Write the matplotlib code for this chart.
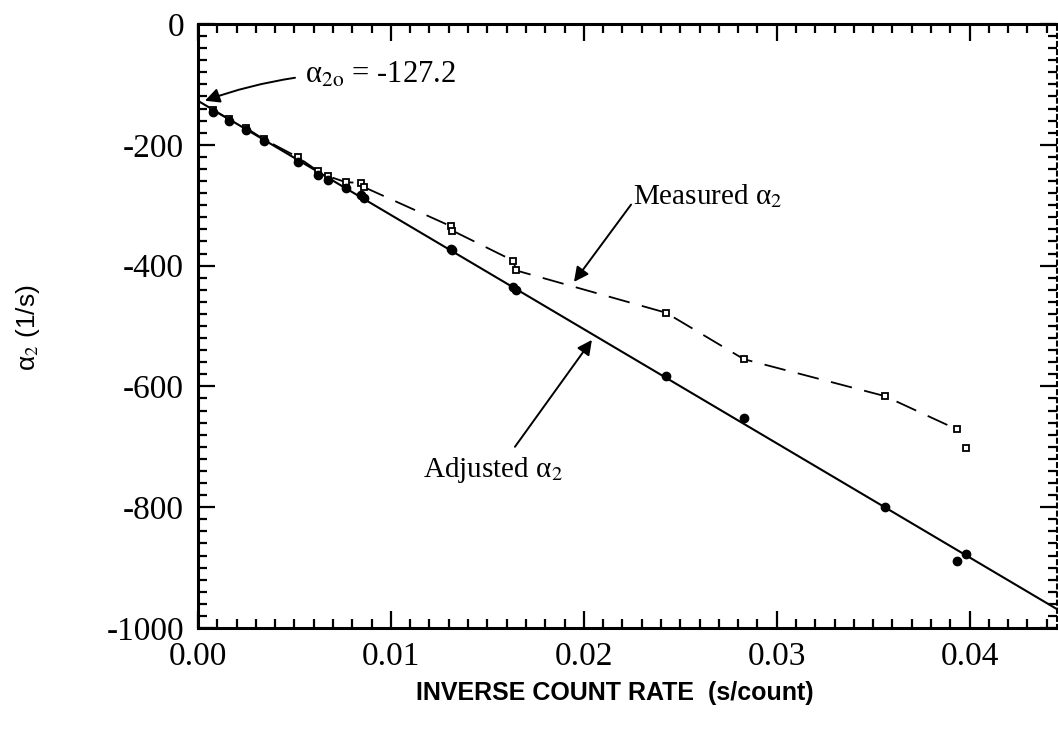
import matplotlib
matplotlib.use("Agg")
import matplotlib.pyplot as plt
import numpy as np
from matplotlib.ticker import MultipleLocator, FixedLocator

plt.rcParams['font.family'] = ['Liberation Serif', 'DejaVu Serif']
plt.rcParams['mathtext.fontset'] = 'stix'
plt.rcParams['axes.unicode_minus'] = False

# ---- data ----
inv_rate = [0.00079, 0.00162, 0.00249, 0.00342, 0.0052, 0.00624, 0.00675, 0.00767,
            0.00843, 0.0086, 0.01312, 0.01318, 0.01635, 0.01649, 0.02426, 0.0283,
            0.0356, 0.03933, 0.03981]
measured = [-143, -158, -172, -191, -221, -244, -252, -262, -263, -270, -335, -342,
            -392, -408, -478, -555, -616, -671, -702]
adjusted = [-145, -161, -175, -193, -229, -250, -259, -272, -283, -288, -372, -374,
            -435, -440, -582, -653, -800, -889, -878]
fit_intercept = -127.2
fit_slope = -18900.0
x_ticks = [0.00, 0.01, 0.02, 0.03, 0.04]
x_ticklabels = ['0.00', '0.01', '0.02', '0.03', '0.04']
y_ticks = [0, -200, -400, -600, -800, -1000]
y_ticklabels = ['0', '-200', '-400', '-600', '-800', '-1000']

XMAX = 0.04453

fig = plt.figure(figsize=(10.58, 7.32), dpi=100)
ax = fig.add_axes([198/1058, 1-628/732, 859/1058, 604/732])

# fit line
xf = np.array([0.0, XMAX])
ax.plot(xf, fit_intercept + fit_slope*xf, color='black', lw=1.5, zorder=2)
# measured dashed curve
ax.plot(inv_rate[:-1], measured[:-1], color='black', lw=1.3, dashes=(12, 7), zorder=2)
ax.plot(inv_rate, measured, ls='none', marker='s', ms=5, mfc='white', mec='black',
        mew=1.3, zorder=3)
ax.plot(inv_rate, adjusted, ls='none', marker='o', ms=6, mfc='black', mec='black',
        zorder=4)

ax.set_xlim(0, XMAX)
ax.set_ylim(-1000, 0)
ax.xaxis.set_major_locator(FixedLocator(x_ticks))
ax.set_xticklabels(x_ticklabels)
ax.yaxis.set_major_locator(FixedLocator(y_ticks))
ax.set_yticklabels(y_ticklabels)
ax.xaxis.set_minor_locator(MultipleLocator(0.001))
ax.yaxis.set_minor_locator(MultipleLocator(20))

ax.tick_params(which='both', direction='in', top=True, right=True, width=1.6,
               labelsize=24, color='black')
ax.tick_params(which='major', length=12)
ax.tick_params(which='minor', length=6.5)
ax.tick_params(axis='x', pad=10)
ax.tick_params(axis='y', pad=10)
for s in ['left', 'bottom', 'top']:
    ax.spines[s].set_linewidth(2.2)
ax.spines['right'].set_linewidth(2.2)
ax.spines['right'].set_linestyle(':')

ax.set_xlabel('INVERSE COUNT RATE  (s/count)', family='Liberation Sans',
              fontsize=18, fontweight='bold')
ax.xaxis.set_label_coords(0.485, -0.088)
ax.set_ylabel('α$_2$ (1/s)', family='Liberation Sans', fontsize=19)
ax.yaxis.set_label_coords(-0.182, 0.497)

arrow = dict(arrowstyle='-|>', color='black', lw=1.4, mutation_scale=22,
             shrinkA=0, shrinkB=0)
ax.annotate('', xy=(0.00036, -127), xytext=(0.00503, -89),
            arrowprops=dict(arrow, connectionstyle='arc3,rad=0.05'))
ax.text(0.00555, -84, 'α$_{2\\mathrm{o}}$ = -127.2', fontsize=22,
        ha='left', va='center')

ax.annotate('', xy=(0.01949, -427), xytext=(0.02245, -299), arrowprops=arrow)
ax.text(0.02255, -285, 'Measured α$_2$', fontsize=21, ha='left', va='center')

ax.annotate('', xy=(0.02042, -523), xytext=(0.01643, -700), arrowprops=arrow)
ax.text(0.01166, -738, 'Adjusted α$_2$', fontsize=21, ha='left', va='center')

fig.savefig('out.png', dpi=100)
